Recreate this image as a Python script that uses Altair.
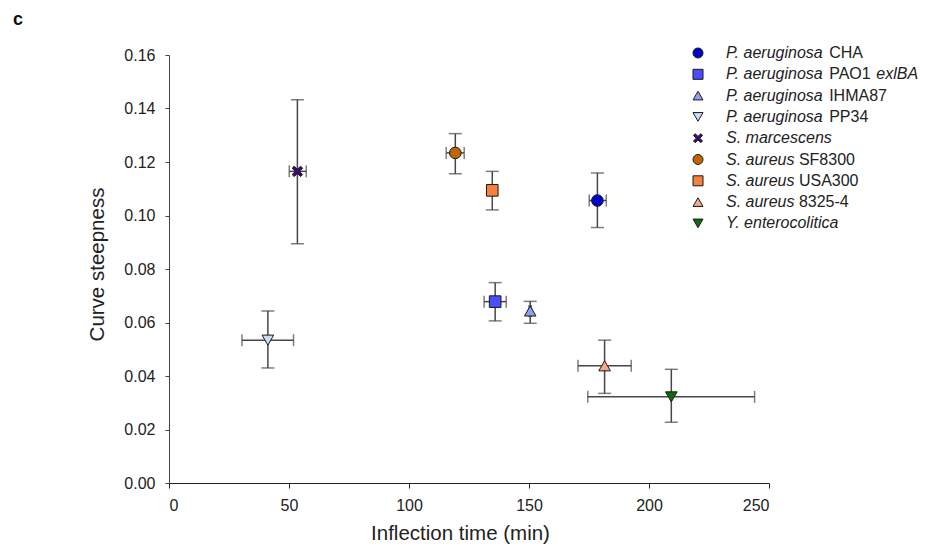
import altair as alt
import pandas as pd

# ---------------- data ----------------
names = [
    "P. aeruginosa CHA",
    "P. aeruginosa PAO1 exlBA",
    "P. aeruginosa IHMA87",
    "P. aeruginosa PP34",
    "S. marcescens",
    "S. aureus SF8300",
    "S. aureus USA300",
    "S. aureus 8325-4",
    "Y. enterocolitica",
]
inflection = [178.5, 135.9, 150.5, 41.2, 53.5, 119.3, 134.7, 181.5, 209.3]
time_lo = [175.1, 131.3, 150.0, 30.4, 50.1, 115.5, 134.2, 170.4, 174.5]
time_hi = [182.2, 140.5, 151.0, 51.9, 57.2, 123.0, 135.2, 192.6, 244.0]
steepness = [0.1056, 0.0678, 0.0643, 0.0534, 0.1165, 0.1234, 0.1094, 0.0438, 0.0322]
steep_lo = [0.0955, 0.0606, 0.0597, 0.0430, 0.0894, 0.1156, 0.1021, 0.0335, 0.0227]
steep_hi = [0.1159, 0.0749, 0.0679, 0.0643, 0.1433, 0.1306, 0.1165, 0.0534, 0.0425]

# legend label pieces: (text, italic)
label_parts = [
    [("P. aeruginosa", True), ("CHA", False)],
    [("P. aeruginosa", True), ("PAO1", False), ("exlBA", True)],
    [("P. aeruginosa", True), ("IHMA87", False)],
    [("P. aeruginosa", True), ("PP34", False)],
    [("S. marcescens", True)],
    [("S. aureus", True), ("SF8300", False)],
    [("S. aureus", True), ("USA300", False)],
    [("S. aureus", True), ("8325-4", False)],
    [("Y. enterocolitica", True)],
]

x_ticks = [0, 50, 100, 150, 200, 250]
y_ticks = [0.00, 0.02, 0.04, 0.06, 0.08, 0.10, 0.12, 0.14, 0.16]

# ---------------- styles ----------------
colors = ["#0000c8", "#4b4bff", "#8c9ff0", "#c8def5", "#3a0a78",
          "#c06400", "#f5823c", "#f7a88c", "#0a6e0a"]
X_PATH = ("M-0.9,-0.55L-0.55,-0.9L0,-0.35L0.55,-0.9L0.9,-0.55L0.35,0L0.9,0.55"
          "L0.55,0.9L0,0.35L-0.55,0.9L-0.9,0.55L-0.35,0Z")
shapes = ["circle", "square", "triangle-up", "triangle-down", X_PATH,
          "circle", "square", "triangle-up", "triangle-down"]

FONT = "Liberation Sans"
PLOT_W, PLOT_H = 600, 428
BAR_COLOR = "#474747"
LEG_FONT = 16
TICK_FONT = 16
TITLE_FONT = 20.5

df = pd.DataFrame({
    "name": names, "t": inflection, "t_lo": time_lo, "t_hi": time_hi,
    "s": steepness, "s_lo": steep_lo, "s_hi": steep_hi,
})

xs = alt.Scale(domain=[0, 250], nice=False, zero=False)
ys = alt.Scale(domain=[0, 0.16], nice=False, zero=False)
cs = alt.Scale(domain=names, range=colors)
ss = alt.Scale(domain=names, range=shapes)

x_axis = alt.Axis(values=x_ticks, title="Inflection time (min)", grid=False,
                  tickSize=5, labelPadding=9, labelFontSize=TICK_FONT,
                  titleFontSize=TITLE_FONT, titleFontWeight="normal",
                  titleX=291, titleY=50, titleBaseline="middle",
                  domainColor="#222", tickColor="#222", labelColor="#222",
                  titleColor="#222", labelFont=FONT, titleFont=FONT)
y_axis = alt.Axis(values=y_ticks, format=".2f", title="Curve steepness", grid=False,
                  tickSize=4, labelPadding=10, labelFontSize=TICK_FONT,
                  titleFontSize=TITLE_FONT, titleFontWeight="normal",
                  titleX=-72, titleY=209, titleBaseline="middle", titleAngle=-90,
                  titleAlign="center",
                  domainColor="#444", tickColor="#444", labelColor="#222",
                  titleColor="#222", labelFont=FONT, titleFont=FONT)

base = alt.Chart(df)

# axes carrier (invisible points) -> draws both axes
axes = base.mark_point(opacity=0).encode(
    x=alt.X("t:Q", scale=xs, axis=x_axis),
    y=alt.Y("s:Q", scale=ys, axis=y_axis),
)

vbar = base.mark_rule(color=BAR_COLOR, strokeWidth=1.5).encode(
    x=alt.X("t:Q", scale=xs, axis=None),
    y=alt.Y("s_lo:Q", scale=ys, axis=None), y2="s_hi:Q",
)
hbar = base.mark_rule(color=BAR_COLOR, strokeWidth=1.5).encode(
    x=alt.X("t_lo:Q", scale=xs, axis=None), x2="t_hi:Q",
    y=alt.Y("s:Q", scale=ys, axis=None),
)
ycap_lo = base.mark_tick(color=BAR_COLOR, thickness=1.5, size=13, orient="horizontal").encode(
    x=alt.X("t:Q", scale=xs, axis=None), y=alt.Y("s_lo:Q", scale=ys, axis=None))
ycap_hi = base.mark_tick(color=BAR_COLOR, thickness=1.5, size=13, orient="horizontal").encode(
    x=alt.X("t:Q", scale=xs, axis=None), y=alt.Y("s_hi:Q", scale=ys, axis=None))
xcap_lo = base.mark_tick(color=BAR_COLOR, thickness=1.5, size=12, orient="vertical").encode(
    x=alt.X("t_lo:Q", scale=xs, axis=None), y=alt.Y("s:Q", scale=ys, axis=None))
xcap_hi = base.mark_tick(color=BAR_COLOR, thickness=1.5, size=12, orient="vertical").encode(
    x=alt.X("t_hi:Q", scale=xs, axis=None), y=alt.Y("s:Q", scale=ys, axis=None))

points = base.mark_point(filled=True, opacity=1, size=135, stroke="#1a1a1a",
                         strokeWidth=1).encode(
    x=alt.X("t:Q", scale=xs, axis=None),
    y=alt.Y("s:Q", scale=ys, axis=None),
    color=alt.Color("name:N", scale=cs, legend=None),
    fill=alt.Fill("name:N", scale=cs, legend=None),
    shape=alt.Shape("name:N", scale=ss, legend=None),
)

# ---------------- hand-made legend (mixed italic / roman labels) ----------------
W = {" ": 278, ".": 278, "-": 333, "A": 667, "B": 667, "C": 722, "H": 722, "I": 278,
     "M": 833, "O": 778, "P": 667, "S": 667, "U": 722, "Y": 667, "a": 556, "b": 556,
     "c": 500, "e": 556, "g": 556, "i": 222, "l": 222, "m": 833, "n": 556, "o": 556,
     "r": 333, "s": 500, "t": 278, "u": 556, "x": 500}


def text_w(s):
    return sum(W.get(ch, 556) for ch in s) / 1000.0 * LEG_FONT


LEG_SYM_X = 529
LEG_TXT_X = 557
LEG_Y0 = -2
LEG_DY = 21.3

sym_rows, txt_rows = [], []
for i, (nm, parts) in enumerate(zip(names, label_parts)):
    yy = LEG_Y0 + i * LEG_DY
    sym_rows.append({"name": nm, "lx": LEG_SYM_X, "ly": yy})
    xx = LEG_TXT_X
    for txt, it in parts:
        txt_rows.append({"txt": txt, "italic": it, "lx": xx, "ly": yy})
        xx += text_w(txt + " ")

leg_sym = alt.Chart(pd.DataFrame(sym_rows)).mark_point(
    filled=True, opacity=1, size=100, stroke="#1a1a1a", strokeWidth=1).encode(
    x=alt.X("lx:Q", scale=None, axis=None),
    y=alt.Y("ly:Q", scale=None, axis=None),
    color=alt.Color("name:N", scale=cs, legend=None),
    fill=alt.Fill("name:N", scale=cs, legend=None),
    shape=alt.Shape("name:N", scale=ss, legend=None),
)
tdf = pd.DataFrame(txt_rows)
leg_it = alt.Chart(tdf).transform_filter("datum.italic").mark_text(
    align="left", baseline="middle", font=FONT, fontSize=LEG_FONT,
    fontStyle="italic", color="#222").encode(
    x=alt.X("lx:Q", scale=None, axis=None),
    y=alt.Y("ly:Q", scale=None, axis=None),
    text="txt:N",
)
leg_rm = alt.Chart(tdf).transform_filter("!datum.italic").mark_text(
    align="left", baseline="middle", font=FONT, fontSize=LEG_FONT,
    color="#222").encode(
    x=alt.X("lx:Q", scale=None, axis=None),
    y=alt.Y("ly:Q", scale=None, axis=None),
    text="txt:N",
)

panel = alt.Chart(pd.DataFrame({"lab": ["c"]})).mark_text(
    align="center", baseline="middle", font=FONT, fontSize=18, fontWeight="bold",
    color="#111").encode(
    x=alt.value(-151), y=alt.value(-35), text="lab:N")

chart = alt.layer(
    axes, vbar, hbar, ycap_lo, ycap_hi, xcap_lo, xcap_hi, points,
    leg_sym, leg_it, leg_rm, panel,
).resolve_scale(
    x="independent", y="independent", color="shared", shape="shared", fill="shared"
).properties(
    width=PLOT_W, height=PLOT_H,
    autosize=alt.AutoSizeParams(type="none"),
    padding={"left": 161, "top": 47, "right": 151, "bottom": 61},
    background="white",
).configure_view(stroke=None)

chart.save("out.html", embed_options={"renderer": "svg", "actions": False})
